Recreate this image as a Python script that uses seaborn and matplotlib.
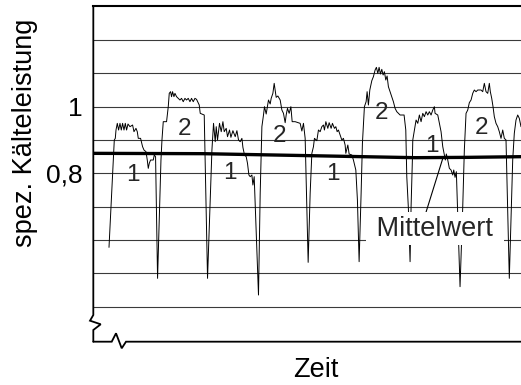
import numpy as np
import matplotlib
matplotlib.use("Agg")
import matplotlib.pyplot as plt
import seaborn as sns

# Messverlauf der spez. Kälteleistung (Zeit in willkürlichen Einheiten)
zeit = [
    15.7, 20.0, 21.0, 22.0, 22.7, 24.0, 25.3, 26.7, 28.0, 29.3, 30.7, 32.0, 33.3, 34.7, 36.7, 39.3,
    40.7, 42.7, 44.0, 45.0, 47.3, 49.3, 50.7, 52.7, 54.0, 55.0, 56.0, 57.3, 60.0, 61.0, 62.3,
    64.3, 67.7, 68.7, 70.0, 73.3, 75.0, 76.0, 77.3, 78.3, 79.3, 80.7, 81.7, 83.3, 85.0, 86.7,
    88.3, 90.0, 91.7, 93.3, 95.0, 96.7, 98.3, 100.0, 101.7, 103.3, 106.0, 107.0, 111.0,
    114.3, 117.0, 118.7, 120.3, 122.0, 123.0, 124.3, 126.3, 128.0, 129.7, 131.0, 133.0, 134.3,
    136.3, 137.7, 139.7, 142.0, 143.7, 145.3, 147.0, 148.7, 149.7, 151.3, 153.0, 154.3, 155.7,
    157.0, 158.7, 159.7, 161.0,
    165.3, 167.0, 168.7, 170.3, 171.3, 173.0, 175.3, 177.0, 178.0, 179.7, 181.0, 183.0, 184.7,
    187.0, 188.7, 190.3, 192.0, 193.0, 194.3, 196.0, 197.7, 199.0, 202.0, 207.0, 208.7, 210.3,
    212.0,
    215.0, 217.0, 218.7, 220.3, 221.3, 223.7, 225.3, 227.0, 228.7, 230.3, 231.3, 232.7, 234.7,
    236.0, 238.0, 239.3, 241.3, 242.7, 244.0, 245.3, 247.0, 248.7, 250.3, 252.0, 252.7, 254.7,
    256.0, 258.7, 260.3, 262.7, 264.3,
    266.0, 268.0, 269.3, 271.3, 273.0, 274.0, 275.3, 276.7, 278.7, 280.3, 282.0, 283.3, 284.7,
    286.0, 287.3, 288.7, 290.0, 291.3, 292.7, 294.0, 295.3, 297.0, 298.7, 300.3, 302.0, 303.7,
    307.0, 311.0, 312.7, 313.7, 315.3,
    317.0, 318.0, 319.3, 319.7, 321.3, 323.0, 324.7, 326.3, 328.0, 329.7, 331.3, 333.0, 334.7,
    336.3, 338.0, 339.7, 341.3, 342.0, 344.7, 346.3, 348.0, 349.7, 351.3, 352.3, 353.3, 354.7,
    356.3, 358.0, 359.7, 360.7, 362.0, 363.3,
    367.0, 369.7, 371.3, 373.0, 374.7, 376.3, 378.0, 379.7, 381.3, 383.0, 384.7, 388.0, 389.7,
    391.3, 393.0, 394.7, 396.3, 397.3, 398.7, 400.0, 401.3, 403.0, 404.7, 406.3, 408.0, 409.7,
    411.3, 413.0,
    416.3, 419.7, 421.3, 423.0, 424.7, 426.3, 428.0,
]
leistung = [
    0.578, 0.840, 0.900, 0.905, 0.930, 0.950, 0.930, 0.950, 0.930, 0.950, 0.930, 0.950, 0.930, 0.948, 0.940, 0.945,
    0.925, 0.935, 0.925, 0.905, 0.905, 0.880, 0.870, 0.865, 0.840, 0.815, 0.830, 0.840, 0.840, 0.855, 0.850,
    0.485, 0.840, 0.900, 0.955, 0.955, 1.000, 1.040, 1.045, 1.030, 1.045, 1.030, 1.040, 1.030, 1.025, 1.020,
    1.025, 1.015, 1.025, 1.020, 1.025, 1.015, 1.025, 1.015, 1.025, 1.022, 1.005, 0.980, 0.975,
    0.485, 0.720, 0.870, 0.950, 0.895, 0.940, 0.900, 0.950, 0.925, 0.955, 0.925, 0.935, 0.910,
    0.930, 0.908, 0.928, 0.910, 0.928, 0.900, 0.895, 0.905, 0.878, 0.855, 0.850, 0.830, 0.795,
    0.790, 0.795, 0.765, 0.790,
    0.435, 0.740, 0.940, 0.975, 1.000, 0.978, 1.020, 1.008, 1.025, 1.040, 1.070, 1.028, 1.032,
    1.020, 0.990, 0.980, 0.952, 0.975, 0.995, 0.980, 1.000, 0.955, 0.955, 0.950, 0.927, 0.950,
    0.905,
    0.533, 0.740, 0.860, 0.880, 0.905, 0.898, 0.930, 0.925, 0.940, 0.945, 0.930, 0.955, 0.935,
    0.952, 0.935, 0.950, 0.935, 0.940, 0.925, 0.930, 0.915, 0.900, 0.905, 0.885, 0.860, 0.885,
    0.858, 0.855, 0.840, 0.810, 0.720,
    0.535, 0.740, 0.890, 1.000, 1.015, 1.045, 1.005, 1.050, 1.078, 1.090, 1.110, 1.118, 1.100,
    1.118, 1.098, 1.112, 1.095, 1.105, 1.080, 1.092, 1.060, 1.045, 1.030, 1.015, 0.995, 0.985,
    0.975, 0.975, 0.930, 0.790, 0.695,
    0.535, 0.700, 0.840, 0.900, 0.930, 0.960, 0.950, 0.975, 0.955, 0.980, 0.970, 0.985, 0.975,
    0.985, 0.975, 0.990, 1.000, 0.980, 0.975, 0.950, 0.925, 0.880, 0.855, 0.840, 0.858, 0.840,
    0.815, 0.810, 0.795, 0.810, 0.788, 0.805,
    0.460, 0.700, 0.870, 0.980, 0.990, 1.012, 1.020, 1.040, 1.050, 1.045, 1.050, 1.050, 1.045,
    1.070, 1.045, 1.040, 1.070, 1.045, 1.025, 1.000, 0.970, 0.950, 0.940, 0.925, 0.905, 0.930,
    0.905, 0.900,
    0.485, 0.840, 0.920, 0.960, 0.975, 0.965, 0.940,
]

# Mittelwert
zeit_mittel = [0, 110, 217, 322, 375, 428]
mittelwert = [0.860, 0.859, 0.853, 0.847, 0.848, 0.850]

# Betriebsphasen 1 / 2
ziffern = ["1", "2", "1", "2", "1", "2", "1", "2"]
ziffer_zeit = [40, 91, 137, 186, 240, 288.5, 338.5, 388.5]
ziffer_wert = [0.804, 0.942, 0.810, 0.921, 0.806, 0.990, 0.890, 0.945]

y_ticks = [0.8, 1.0]
y_labels = ["0,8", "1"]
gitter = [0.4, 0.5, 0.6, 0.7, 0.8, 0.9, 1.0, 1.1, 1.2]

sns.set_theme(style="white")
plt.rcParams["font.family"] = ["Liberation Sans", "DejaVu Sans"]

fig = plt.figure(figsize=(5.21, 3.85), dpi=100)
ax = fig.add_axes([0.1791, 0.1125, 0.8209, 0.8719])

# Messkurve und Mittelwert
sns.lineplot(x=zeit, y=leistung, sort=False, estimator=None, color="black",
             lw=0.7, ax=ax, zorder=2)
sns.lineplot(x=zeit_mittel, y=mittelwert, sort=False, estimator=None, color="black",
             lw=2.4, ax=ax, zorder=2.5)

ax.set_xlim(0, 428)
ax.set_ylim(0.295, 1.302)
ax.set_xticks([])
ax.set_yticks(y_ticks, y_labels)
ax.set_yticks(gitter, minor=True)
ax.tick_params(axis="y", which="both", length=0, pad=8, labelsize=19, colors="black")
ax.grid(True, which="both", axis="y", color="#3a3a3a", lw=0.8)
ax.set_axisbelow(True)

# Phasen-Ziffern
for z, t, v in zip(ziffern, ziffer_zeit, ziffer_wert):
    ax.text(t, v, z, fontsize=17.5, ha="center", va="center_baseline", zorder=3)

# Beschriftung Mittelwert
t_pfeil = 350
ax.annotate("", xy=(t_pfeil, np.interp(t_pfeil, zeit_mittel, mittelwert)), xytext=(333, 0.684),
            arrowprops=dict(arrowstyle="-", color="black", lw=0.8, shrinkA=0, shrinkB=0))
ax.text(341.5, 0.613, " Mittelwert ", fontsize=19.5, ha="center", va="baseline", zorder=4,
        bbox=dict(boxstyle="square,pad=0.12", facecolor="white", edgecolor="none"))

# Rahmen mit Achsenbruch
for s in ["left", "bottom", "right"]:
    ax.spines[s].set_visible(False)
ax.spines["top"].set_linewidth(1.5)
ax.spines["top"].set_color("black")

W = 0.8209 * 521
H = 0.8719 * 385
links = np.array([(0, H), (0, 26.7), (-3.3, 21), (7.4, 17.4), (0, 11.7), (0, 0)])
unten = np.array([(0, 0), (18.4, 0), (22.7, 8.4), (28.4, -6.6), (32.7, 0), (W, 0)])
for pfad in (links, unten):
    ax.plot(pfad[:, 0] / W, pfad[:, 1] / H, color="black", lw=1.3,
            transform=ax.transAxes, clip_on=False, solid_joinstyle="miter")

ax.set_ylabel("spez. Kälteleistung", fontsize=19.5, color="black")
ax.yaxis.set_label_coords(-0.129, 0.622)
ax.set_xlabel("Zeit", fontsize=19.5, color="black", va="baseline")
ax.xaxis.set_label_coords(0.5195, -0.105)

fig.savefig("out.png", dpi=100)
